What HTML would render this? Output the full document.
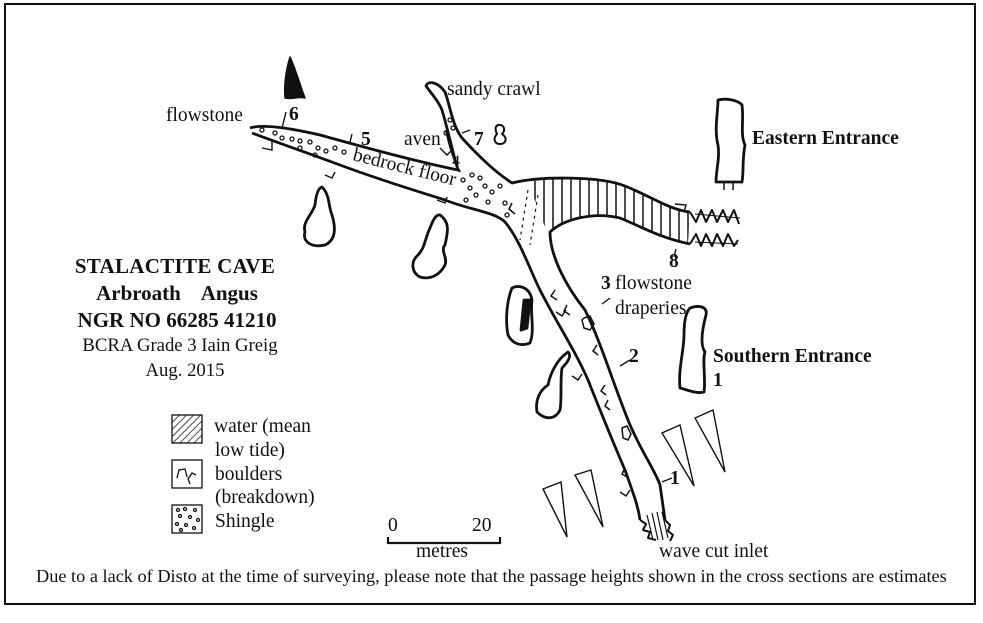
<!DOCTYPE html>
<html><head><meta charset="utf-8"><style>
body{margin:0;background:#fff;width:983px;height:623px;overflow:hidden}
svg{display:block}
text{font-family:"Liberation Serif",serif;fill:#111}
.b{font-weight:bold}
</style></head><body>
<svg width="983" height="623" viewBox="0 0 983 623">
<defs>
<pattern id="vh" width="9" height="10" patternUnits="userSpaceOnUse"><line x1="4" y1="0" x2="4" y2="10" stroke="#111" stroke-width="1.5"/></pattern>
<pattern id="dg" width="5" height="5" patternUnits="userSpaceOnUse" patternTransform="rotate(45)"><line x1="0" y1="0" x2="0" y2="5" stroke="#111" stroke-width="1.5"/></pattern>
</defs>
<rect x="5" y="4" width="970" height="600" fill="none" stroke="#111" stroke-width="2"/>

<g fill="none" stroke="#111" stroke-width="2.8" stroke-linejoin="round">
<path d="M528,182 C560,176 600,178 625,186 C650,196 670,210 690,212 L688,243 C660,238 640,226 620,218 C595,212 565,218 548,235 Z" fill="url(#vh)" stroke="none"/>
<path d="M250,128 C262,124 290,128 320,135 C360,146 410,160 458,170 C452,150 448,130 442,110 C438,100 430,92 426,86 C428,80 438,82 445,92 C450,105 452,125 462,138 C475,152 492,170 512,183 C540,176 600,176 625,186 C650,196 670,210 690,212"/>
<path d="M690,244 C660,238 640,226 620,218 C595,212 565,218 550,232 C550,255 565,285 585,310 C600,340 612,380 628,420 C640,450 655,470 660,485 L665,520"/>
<path d="M252,133 C270,140 300,150 340,165 C380,180 420,192 445,200 C470,210 495,212 505,222 C520,240 530,270 540,290 C555,320 575,350 588,380 C600,410 612,440 625,470 C632,490 638,505 640,520"/>
<path d="M446,130 C450,150 456,165 460,172" stroke-width="2"/>
<path d="M690,212 l6,10 l5,-12 l5,12 l6,-12 l5,12 l6,-12 l5,12 l6,-12 l5,14 M690,244 l6,-10 l5,12 l5,-12 l6,12 l5,-12 l6,12 l5,-12 l6,12 l4,-6" stroke-width="2"/>
<path d="M695,214 L740,218 M695,242 L738,244" stroke-width="1" />
<path d="M640,520 l6,4 l-3,6 l7,2 l-2,6 l8,2 M665,520 l5,5 l-2,6 l5,4 l-3,6" stroke-width="2"/>
<path d="M647,515 L653,540 M652,513 L658,540 M657,512 L663,540 M662,512 L668,538" stroke-width="1.2"/>
<path d="M322,187 C330,195 328,205 332,215 C336,228 336,240 325,245 C312,248 302,242 305,232 C302,222 312,215 315,205 C316,195 318,188 322,187Z"/>
<path d="M440,215 C450,222 448,232 445,245 C440,250 448,258 445,265 C440,275 430,280 420,277 C412,273 410,262 418,255 C425,248 425,238 430,228 C433,220 436,214 440,215Z"/>
<path d="M512,288 C520,284 530,288 532,300 C530,315 535,330 530,343 C520,347 512,343 508,335 C505,320 507,300 512,288Z"/>
<path d="M524,300 L530,300 L527,328 L521,330Z" fill="#111"/>
<path d="M568,352 C572,356 568,362 562,368 C560,380 562,400 560,410 C555,420 545,420 537,412 C535,400 540,390 548,385 C550,375 556,360 568,352Z"/>
<path d="M690,308 C698,305 708,306 706,315 C702,330 700,345 705,352 C702,360 706,378 704,392 C696,394 688,390 680,388 C678,370 684,350 684,335 C684,322 686,312 690,308Z"/>
<path d="M718,100 C726,98 738,100 742,105 C744,120 740,135 745,145 C742,160 744,170 742,182 L716,182 C716,170 720,158 718,145 C714,130 718,112 718,100Z"/>
<path d="M290,57 C296,70 300,85 305,98 C298,96 292,100 285,98 C284,85 286,70 290,57Z" fill="#111" stroke-width="1.5"/>
<path d="M498,125 C504,124 506,130 502,134 C508,138 506,144 500,144 C494,144 493,138 497,134 C495,130 495,126 498,125Z" stroke-width="2"/>
</g>
<path d="M716,182 L742,182 L740,190 L716,190Z" fill="url(#vh)"/>
<g fill="none" stroke="#111" stroke-width="1.3">
<circle cx="262" cy="130" r="2"/><circle cx="275" cy="133" r="2"/><circle cx="282" cy="138" r="2"/><circle cx="292" cy="139" r="2"/><circle cx="300" cy="141" r="2"/><circle cx="310" cy="142" r="2"/><circle cx="300" cy="148" r="2"/><circle cx="318" cy="148" r="2"/><circle cx="326" cy="151" r="2"/><circle cx="335" cy="148" r="2"/><circle cx="344" cy="152" r="2"/><circle cx="315" cy="155" r="2"/>
<circle cx="463" cy="180" r="2"/><circle cx="472" cy="175" r="2"/><circle cx="480" cy="178" r="2"/><circle cx="470" cy="188" r="2"/><circle cx="485" cy="186" r="2"/><circle cx="476" cy="195" r="2"/><circle cx="492" cy="192" r="2"/><circle cx="466" cy="200" r="2"/><circle cx="500" cy="186" r="2"/><circle cx="505" cy="203" r="2"/><circle cx="488" cy="202" r="2"/><circle cx="507" cy="215" r="2"/><circle cx="450" cy="120" r="2"/><circle cx="446" cy="133" r="2"/><circle cx="453" cy="128" r="2"/>
</g>
<g fill="none" stroke="#111" stroke-width="1.5">
<path d="M555,290 l-4,6 l6,4 M567,305 l-3,6 l6,4 M584,318 l6,-2 l4,8 l-4,6 l-6,-2 l-2,-8Z M597,345 l-4,6 l5,4 M605,385 l-4,6 l5,4 M608,400 l-3,6 l5,4 M622,428 l5,-2 l4,8 l-3,6 l-5,-2Z M625,468 l-3,6 l5,3 M512,203 l-3,6 l6,5"/>
<path d="M528,190 L520,240 M538,195 L530,245" stroke-dasharray="3,4" stroke-width="1.2"/>
</g>
<g stroke="#111" stroke-width="1.4" fill="none">
<path d="M286,112 L282,128 M262,148 L272,150 L272,140 M352,134 L350,142 M325,175 L332,178 L335,172 M437,200 L445,203 L447,197 M440,148 L447,155 L452,150 M462,133 L470,130 M610,298 L602,304 M556,312 L562,316 L566,310 M630,360 L620,366 M572,376 L578,380 L582,374 M662,482 L672,478 M620,492 L626,496 L630,490 M675,204 L686,205 L684,212 M674,257 L676,249"/>
</g>
<g fill="#fff" stroke="#111" stroke-width="1.4">
<path d="M543,489 L561,482 L567,537Z"/><path d="M575,475 L591,470 L603,527Z"/><path d="M662,433 L680,425 L694,486Z"/><path d="M695,418 L713,410 L725,472Z"/>
</g>
<path d="M388,537 L388,543 L500,543 L500,537" fill="none" stroke="#111" stroke-width="2.2"/>

<g font-size="19.5">
<text x="166" y="121">flowstone</text>
<text x="447" y="95">sandy crawl</text>
<text x="404" y="145">aven</text>
<text x="452" y="166" font-size="16">4</text>
<text x="474" y="145" class="b">7</text>
<text x="289" y="120" class="b">6</text>
<text x="361" y="145" class="b">5</text>
<text x="352" y="160" transform="rotate(14 352 160)">bedrock floor</text>
<text x="752" y="144" class="b">Eastern Entrance</text>
<text x="669" y="267" class="b">8</text>
<text x="601" y="289" class="b">3</text><text x="615" y="289">flowstone</text>
<text x="615" y="314">draperies</text>
<text x="629" y="362" class="b">2</text>
<text x="713" y="362" class="b">Southern Entrance</text>
<text x="713" y="386" class="b">1</text>
<text x="670" y="484" class="b">1</text>
<text x="388" y="531">0</text><text x="472" y="531">20</text>
<text x="416" y="557">metres</text>
<text x="659" y="557">wave cut inlet</text>
<text x="36" y="582" font-size="18.3">Due to a lack of Disto at the time of surveying, please note that the passage heights shown in the cross sections are estimates</text>
</g>
<g text-anchor="middle">
<text x="175" y="273" font-size="21" class="b" letter-spacing="0.3">STALACTITE CAVE</text>
<text x="177" y="300" font-size="21" class="b" xml:space="preserve">Arbroath    Angus</text>
<text x="177" y="327" font-size="21" class="b">NGR NO 66285 41210</text>
<text x="180" y="351" font-size="18.7">BCRA Grade 3 Iain Greig</text>
<text x="185" y="376" font-size="18.7">Aug. 2015</text>
</g>
<g stroke="#111" fill="none" stroke-width="1.3">
<rect x="172" y="415" width="30" height="28" fill="url(#dg)"/>
<rect x="172" y="460" width="30" height="28"/>
<path d="M177,478 l2,-8 l6,-1 l2,8 M190,484 l-2,-5 l4,-6 l4,2" />
<rect x="172" y="505" width="30" height="28"/>
<circle cx="178" cy="510" r="1.5"/><circle cx="185" cy="509" r="1.5"/><circle cx="195" cy="510" r="1.5"/><circle cx="180" cy="516" r="1.5"/><circle cx="190" cy="517" r="1.5"/><circle cx="198" cy="520" r="1.5"/><circle cx="177" cy="524" r="1.5"/><circle cx="186" cy="525" r="1.5"/><circle cx="194" cy="528" r="1.5"/><circle cx="181" cy="530" r="1.5"/>
</g>
<g font-size="19.5">
<text x="214" y="432">water (mean</text><text x="215" y="456">low tide)</text>
<text x="215" y="480">boulders</text><text x="215" y="503">(breakdown)</text>
<text x="215" y="527">Shingle</text>
</g>
</svg>
</body></html>
